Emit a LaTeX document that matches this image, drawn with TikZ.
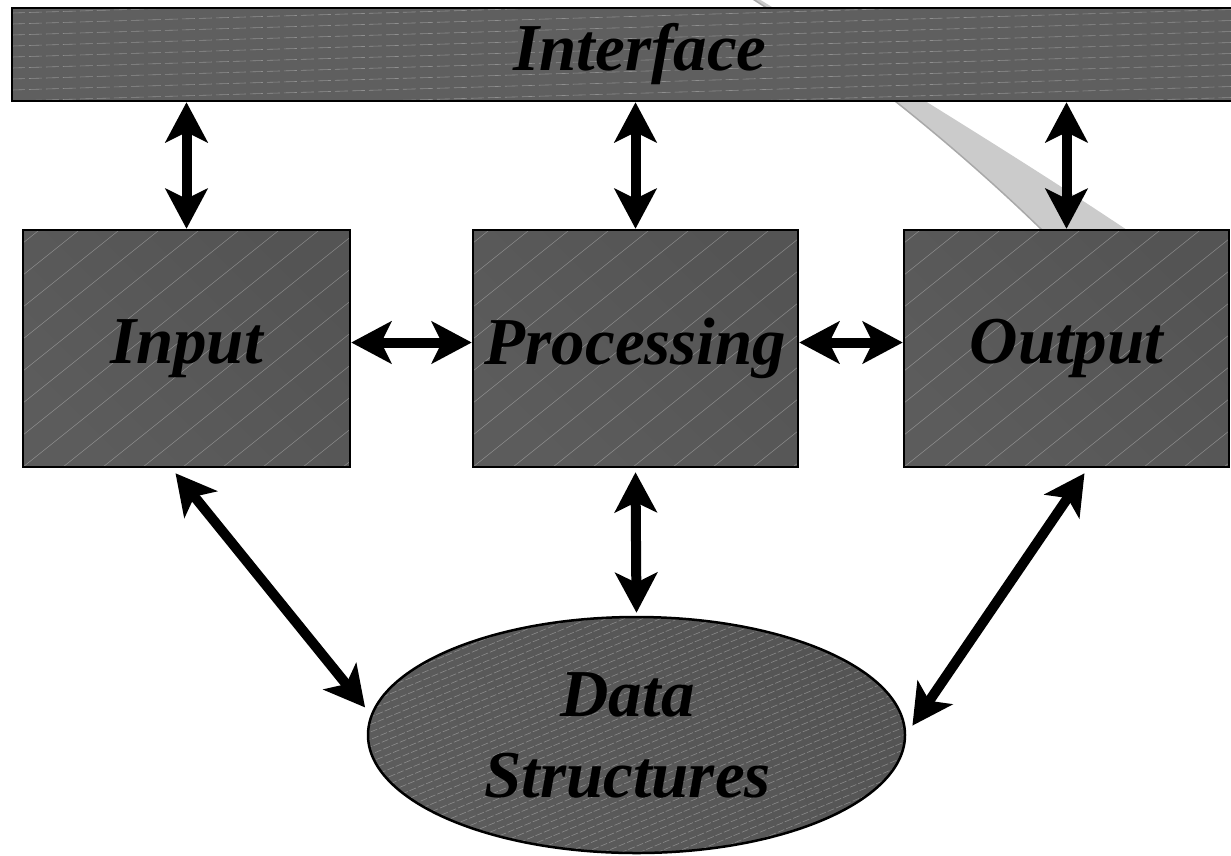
\documentclass[tikz,border=0pt]{standalone}
\usepackage{fontspec}
\setmainfont{Liberation Serif}
\usetikzlibrary{arrows.meta,shapes.geometric}

\definecolor{fillA}{HTML}{545454}
\definecolor{fillB}{HTML}{666666}
\definecolor{fillC}{HTML}{5C5C5C}
\definecolor{barfill}{HTML}{5F5F5F}
\definecolor{swoosh}{HTML}{CBCBCB}
\definecolor{swooshedge}{HTML}{A9A9A9}

\newcommand\lblfont{\bfseries\itshape\fontsize{67}{81}\selectfont}

\tikzset{
  hatch/.style={white, opacity=0.28, line width=0.6pt},
  shaded/.style={draw=black, line width=2.5pt, inner sep=0pt,
    shading=axis, left color=fillA, middle color=fillB, right color=fillC,
    shading angle=-45, font=\lblfont},
  blk/.style={shaded, rectangle, minimum height=237pt,
    path picture={
      \foreach \k in {-8,...,9}
        \draw[hatch] ([xshift={\k*40pt}]path picture bounding box.south west) -- ++(400pt,320pt);
    }},
  bar/.style={rectangle, draw=black, line width=2.5pt, fill=barfill, inner sep=0pt,
    minimum width=1256pt, minimum height=93pt, font=\lblfont,
    path picture={
      \foreach \k in {-4,...,9}
        \draw[hatch, opacity=0.3, dash pattern=on 13pt off 4pt]
          ([yshift={\k*11pt}]path picture bounding box.south west) -- ++(1270pt,38pt);
    }},
  store/.style={shaded, ellipse, minimum width=537pt, minimum height=236pt, align=center,
    path picture={
      \foreach \k in {-32,...,30}
        \draw[hatch, opacity=0.3, line width=0.6pt, dash pattern=on 7pt off 2pt]
          ([xshift={\k*18pt}]path picture bounding box.south west) -- ++(720pt,300pt);
    }},
  dar/.style={line width=10pt,
    {Stealth[length=40pt,width=42pt,inset=10pt]}-{Stealth[length=40pt,width=42pt,inset=10pt]}},
}

\begin{document}
\begin{tikzpicture}[x=1pt,y=-1pt]
\useasboundingbox (0,0) rectangle (1231,855);
\clip (0,0) rectangle (1231,855);

% light grey swoosh behind the interface bar
\fill[swoosh] (748,-4) .. controls (850,60) and (960,150) .. (1042,230)
  -- (1127,230) .. controls (1030,165) and (900,85) .. (754,-4) -- cycle;
\draw[swooshedge, line width=1.5pt] (748,-4) .. controls (850,60) and (960,150) .. (1042,230);

% blocks
\node[bar] (iface) at (640,54.5) {Interface};
\node[blk, minimum width=327pt] (in)   at (186.5,348.5) {Input};
\node[blk, minimum width=325pt] (proc) at (635.5,348.5) {Processing};
\node[blk, minimum width=325pt] (out)  at (1066.5,348.5) {Output};
\node[store] (ds) at (636.5,735) {\hspace*{-18pt}Data\\\hspace*{-18pt}Structures};

% two-way connectors
\draw[dar] (iface.south -| in.north) -- (in.north);
\draw[dar] (iface.south -| proc.north) -- (proc.north);
\draw[dar] (iface.south -| out.north) -- (out.north);
\draw[dar] ([yshift=6pt]in.east) -- ([yshift=6pt]proc.west);
\draw[dar] ([yshift=6pt]proc.east) -- ([yshift=6pt]out.west);
\draw[dar] ([yshift=-4pt]proc.south) -- ([yshift=3pt]ds.north);
\draw[dar] ([xshift=-11pt,yshift=-5pt]in.south) -- ([xshift=-9pt]ds.174);
\draw[dar] ([xshift=18pt,yshift=-5pt]out.south) -- ([xshift=7pt]ds.2);
\end{tikzpicture}
\end{document}
